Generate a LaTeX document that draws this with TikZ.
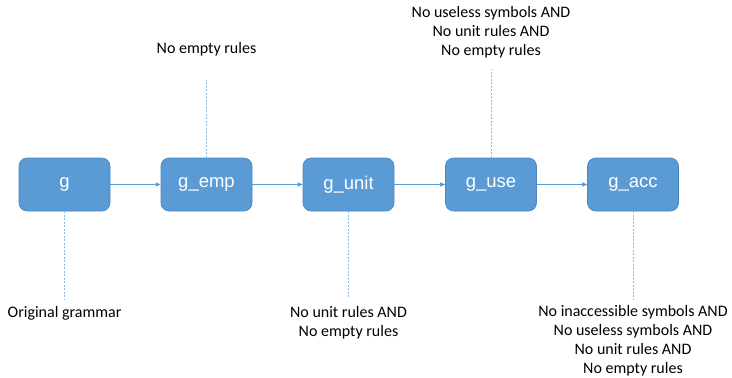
\documentclass[tikz,border=0pt]{standalone}
\usepackage{fontspec}
\setmainfont{Carlito}
\newfontfamily\boxfont{Liberation Sans}
\usetikzlibrary{arrows.meta}
\definecolor{boxfill}{HTML}{5B9BD5}
\definecolor{boxline}{HTML}{4A86C0}
\definecolor{linkc}{HTML}{5B9BD5}
\definecolor{dashc}{HTML}{8DB8E2}
\begin{document}
\begin{tikzpicture}[x=1pt,y=-1pt,
  stage/.style={draw=boxline,line width=0.6pt,fill=boxfill,rounded corners=8pt,
    minimum width=91pt,minimum height=53pt,inner sep=0pt,text=white,
    font=\boxfont\fontsize{18.5}{22}\selectfont},
  link/.style={draw=linkc,line width=0.7pt,-{Triangle[length=5pt,width=4pt]}},
  callout/.style={draw=dashc,line width=0.7pt,dash pattern=on 2pt off 1.5pt},
  note/.style={align=center,inner sep=0pt,font=\fontsize{16}{18.9}\selectfont,text=black}]
\useasboundingbox (0,0) rectangle (732,378);
\node[stage] (g) at (64.5,184.5) {g};
\node[stage] (gemp) at (206.5,184.5) {g\_emp};
\node[stage] (gunit) at (348.5,184.5) {g\_unit};
\node[stage] (guse) at (491,184.5) {g\_use};
\node[stage] (gacc) at (633,184.5) {g\_acc};
\draw[link] (g) -- (gemp);
\draw[link] (gemp) -- (gunit);
\draw[link] (gunit) -- (guse);
\draw[link] (guse) -- (gacc);
% notes
\node[note,anchor=north] (n1) at (64.5,306) {Original grammar};
\node[note,anchor=south] (n2) at (206.5,56.5) {No empty rules};
\node[note,anchor=north] (n3) at (348.5,306) {No unit rules AND\\No empty rules};
\node[note,anchor=south] (n4) at (491,58) {No useless symbols AND\\No unit rules AND\\No empty rules};
\node[note,anchor=north] (n5) at (633,305.5) {No inaccessible symbols AND\\No useless symbols AND\\No unit rules AND\\No empty rules};
\coordinate (c1) at (64.5,299);
\coordinate (c2) at (206.5,80);
\coordinate (c3) at (348.5,298);
\coordinate (c4) at (491,69);
\coordinate (c5) at (633,300);
\draw[callout] (g.south) -- (c1);
\draw[callout] (gemp.north) -- (c2);
\draw[callout] (gunit.south) -- (c3);
\draw[callout] (guse.north) -- (c4);
\draw[callout] (gacc.south) -- (c5);
\end{tikzpicture}
\end{document}
